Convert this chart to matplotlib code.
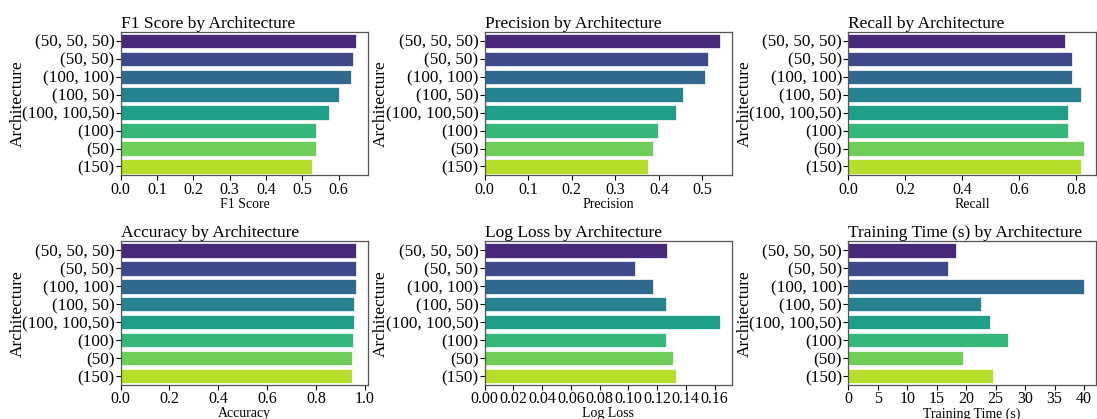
# import packages
import numpy as np
import matplotlib
matplotlib.use("Agg")
import matplotlib.pyplot as plt
import matplotlib.ticker as ticker

plt.rcParams["font.family"] = ["Liberation Serif", "DejaVu Serif"]

# data
architectures = ["(50, 50, 50)", "(50, 50)", "(100, 100)", "(100, 50)",
                 "(100, 100,50)", "(100)", "(50)", "(150)"]
f1_score = [0.649, 0.639, 0.633, 0.600, 0.574, 0.538, 0.538, 0.527]
precision = [0.541, 0.514, 0.505, 0.456, 0.439, 0.398, 0.386, 0.376]
recall = [0.759, 0.786, 0.786, 0.815, 0.771, 0.771, 0.827, 0.815]
accuracy = [0.966, 0.965, 0.965, 0.957, 0.955, 0.952, 0.948, 0.948]
log_loss = [0.127, 0.105, 0.117, 0.126, 0.164, 0.126, 0.131, 0.133]
training_time = [18.3, 16.9, 40.0, 22.5, 24.0, 27.1, 19.4, 24.6]

metrics = [
    ("F1 Score", f1_score),
    ("Precision", precision),
    ("Recall", recall),
    ("Accuracy", accuracy),
    ("Log Loss", log_loss),
    ("Training Time (s)", training_time),
]

# x tick spacing per panel
tick_steps = {"F1 Score": 0.1, "Precision": 0.1, "Recall": 0.2,
              "Accuracy": 0.2, "Log Loss": 0.02, "Training Time (s)": 5}
tick_formats = {"F1 Score": "%.1f", "Precision": "%.1f", "Recall": "%.1f",
                "Accuracy": "%.1f", "Log Loss": "%.2f", "Training Time (s)": "%d"}


def bar_panel(ax, name, values):
    # horizontal bars, viridis palette like seaborn's default sampling
    colors = plt.cm.viridis(np.linspace(0, 1, len(values) + 2)[1:-1])
    y = np.arange(len(architectures))
    ax.barh(y, values, height=0.8, color=colors, edgecolor="white", linewidth=0.5)
    ax.set_yticks(y)
    ax.set_yticklabels(architectures, fontsize=12.3)
    ax.set_ylim(len(architectures) - 0.5, -0.5)
    ax.set_xlim(0, max(values) * 1.05)
    ax.xaxis.set_major_locator(ticker.MultipleLocator(tick_steps[name]))
    ax.xaxis.set_major_formatter(ticker.FormatStrFormatter(tick_formats[name]))
    ax.tick_params(axis="x", labelsize=11.5, pad=1)
    ax.tick_params(axis="y", pad=1)
    ax.set_title(name + " by Architecture", fontsize=12.5, loc="left", pad=3)
    ax.set_xlabel(name, fontsize=10, labelpad=0)
    ax.set_ylabel("Architecture", fontsize=12.5)
    ax.yaxis.set_label_coords(-0.385, 0.5)
    for s in ax.spines.values():
        s.set_color("#555555")
        s.set_linewidth(0.9)


def main():
    fig, axes = plt.subplots(2, 3, figsize=(10.97, 4.19), dpi=100)
    for ax, (name, values) in zip(axes.flat, metrics):
        bar_panel(ax, name, values)
    fig.subplots_adjust(left=0.110, right=0.999, top=0.924, bottom=0.081,
                        wspace=0.47, hspace=0.46)
    fig.savefig("out.png", dpi=100)
    plt.close(fig)


main()
